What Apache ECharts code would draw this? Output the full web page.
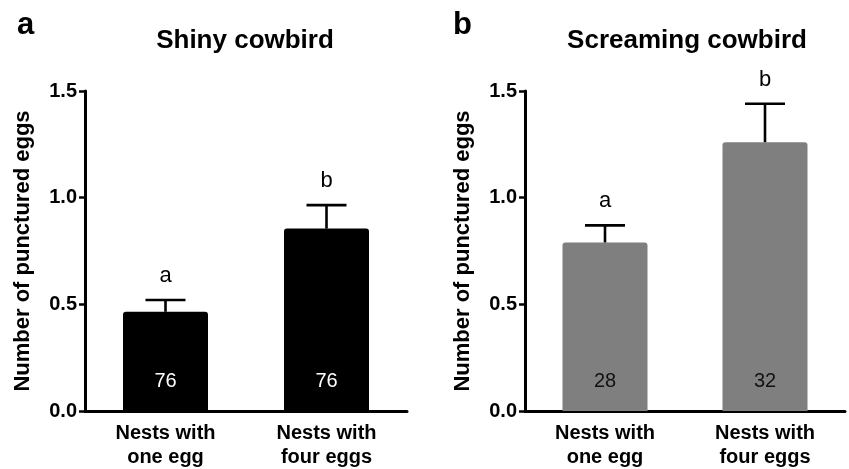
<!DOCTYPE html>
<html>
<head>
<meta charset="utf-8">
<script src="https://cdn.jsdelivr.net/npm/echarts@6/dist/echarts.min.js"></script>
<style>html,body{margin:0;padding:0;background:#fff}#c{width:849px;height:469px}</style>
</head>
<body>
<div id="c"></div>
<script>
const categories = ['Nests with\none egg', 'Nests with\nfour eggs'];
const yTicks = [0, 0.5, 1.0, 1.5];
const shinyMeans = [0.465, 0.855];
const shinyUpper = [0.52, 0.965];
const shinyN = [76, 76];
const shinyLetters = ['a', 'b'];
const screamingMeans = [0.79, 1.26];
const screamingUpper = [0.87, 1.44];
const screamingN = [28, 32];
const screamingLetters = ['a', 'b'];

const FONT = '"Liberation Sans", Arial, Helvetica, sans-serif';

function errorSeries(idx, means, upper, letters) {
  return {
    type: 'custom',
    xAxisIndex: idx, yAxisIndex: idx,
    z: 5,
    data: means.map((m, i) => [i, m, upper[i], letters[i]]),
    renderItem: function (params, api) {
      const x = api.value(0);
      const top = api.coord([x, api.value(1)]);
      const up = api.coord([x, api.value(2)]);
      const half = 20;
      const st = { stroke: '#000', lineWidth: 2.6 };
      return {
        type: 'group',
        children: [
          { type: 'line', shape: { x1: top[0], y1: top[1], x2: up[0], y2: up[1] }, style: st },
          { type: 'line', shape: { x1: up[0] - half, y1: up[1], x2: up[0] + half, y2: up[1] }, style: st },
          { type: 'text', x: up[0], y: up[1] - 24, style: { text: api.value(3), fill: '#000', font: '22px ' + FONT, align: 'center', verticalAlign: 'middle' } }
        ]
      };
    }
  };
}

function barSeries(idx, means, ns, color, labelColor) {
  return {
    type: 'bar',
    xAxisIndex: idx, yAxisIndex: idx,
    barWidth: 85,
    data: means.map((m, i) => ({ value: m, n: ns[i] })),
    itemStyle: { color: color, borderRadius: [3, 3, 0, 0] },
    label: {
      show: true, position: 'insideBottom', distance: 20,
      formatter: p => String(ns[p.dataIndex]),
      color: labelColor, fontFamily: FONT, fontSize: 20
    },
    animation: false
  };
}

function xAxis(idx) {
  return {
    type: 'category', gridIndex: idx, data: categories,
    axisLine: { lineStyle: { color: '#000', width: 3 } },
    axisTick: { alignWithLabel: true, length: 6, lineStyle: { color: '#000', width: 2.5 } },
    axisLabel: { color: '#000', fontFamily: FONT, fontWeight: 'bold', fontSize: 20, lineHeight: 24, margin: 10 },
    splitLine: { show: false }
  };
}
function yAxis(idx) {
  return {
    type: 'value', gridIndex: idx, min: 0, max: 1.5, interval: 0.5,
    name: 'Number of punctured eggs', nameLocation: 'middle', nameGap: 51,
    nameTextStyle: { color: '#000', fontFamily: FONT, fontWeight: 'bold', fontSize: 22 },
    axisLine: { show: true, lineStyle: { color: '#000', width: 3 } },
    axisTick: { show: true, length: 6, lineStyle: { color: '#000', width: 2.5 } },
    axisLabel: { color: '#000', fontFamily: FONT, fontWeight: 'bold', fontSize: 20, margin: 8,
      formatter: v => yTicks.includes(v) ? v.toFixed(1) : '' },
    splitLine: { show: false }
  };
}

const chart = echarts.init(document.getElementById('c'), null, { renderer: 'canvas' });
chart.setOption({
  animation: false,
  backgroundColor: '#fff',
  title: [
    { text: 'a', left: 12, top: 5, textStyle: { fontFamily: FONT, fontWeight: 'bold', fontSize: 31, color: '#000' } },
    { text: 'b', left: 448, top: 5, textStyle: { fontFamily: FONT, fontWeight: 'bold', fontSize: 31, color: '#000' } },
    { text: 'Shiny cowbird', left: 240, textAlign: 'center', top: 23, textStyle: { fontFamily: FONT, fontWeight: 'bold', fontSize: 26, color: '#000' } },
    { text: 'Screaming cowbird', left: 682, textAlign: 'center', top: 23, textStyle: { fontFamily: FONT, fontWeight: 'bold', fontSize: 26, color: '#000' } }
  ],
  grid: [
    { left: 85, right: 442, top: 91, bottom: 55 },
    { left: 525, right: 4, top: 91, bottom: 55 }
  ],
  xAxis: [xAxis(0), xAxis(1)],
  yAxis: [yAxis(0), yAxis(1)],
  series: [
    barSeries(0, shinyMeans, shinyN, '#000000', '#ffffff'),
    errorSeries(0, shinyMeans, shinyUpper, shinyLetters),
    barSeries(1, screamingMeans, screamingN, '#7f7f7f', '#111111'),
    errorSeries(1, screamingMeans, screamingUpper, screamingLetters)
  ]
});
</script>
</body>
</html>
